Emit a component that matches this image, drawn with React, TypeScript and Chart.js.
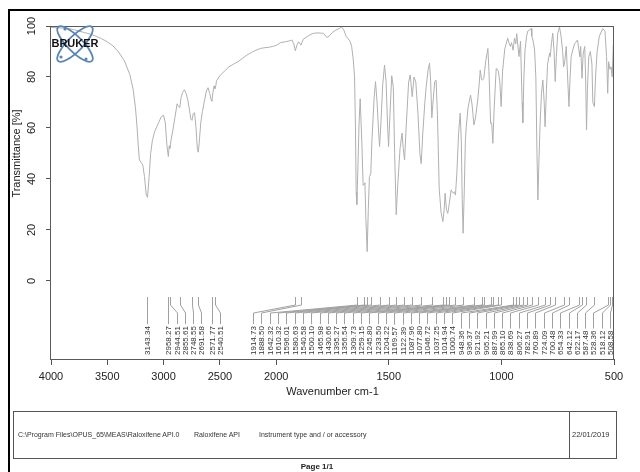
import React, { useEffect, useRef } from 'react';
import { Chart, registerables } from 'chart.js';

Chart.register(...registerables);

// ---- data -------------------------------------------------------------
const wavenumbers = [
  4000, 3950, 3900, 3850, 3800, 3750, 3700, 3650, 3600, 3550, 3500, 3450, 3400, 3350, 3300, 3270, 3250, 3235, 3225, 3215,
  3200, 3185, 3170, 3155, 3143, 3130, 3115, 3100, 3080, 3060, 3040, 3020, 3000, 2985, 2970, 2958, 2950, 2944, 2935, 2920,
  2900, 2880, 2870, 2856, 2845, 2830, 2815, 2800, 2785, 2770, 2758, 2748, 2738, 2725, 2712, 2700, 2692, 2684, 2670, 2655,
  2640, 2620, 2605, 2590, 2578, 2571, 2562, 2552, 2545, 2540, 2530, 2500, 2460, 2420, 2380, 2340, 2300, 2260, 2220, 2180,
  2140, 2100, 2060, 2030, 2000, 1980, 1960, 1940, 1930, 1922, 1915, 1908, 1900, 1890, 1880, 1860, 1840, 1820, 1800, 1790,
  1775, 1765, 1750, 1735, 1720, 1710, 1700, 1690, 1680, 1672, 1665, 1658, 1652, 1648, 1645, 1642, 1638, 1632, 1627, 1620,
  1614, 1610, 1606, 1602, 1596, 1591, 1586, 1580, 1575, 1565, 1559, 1552, 1545, 1541, 1535, 1527, 1519, 1512, 1505, 1501,
  1495, 1487, 1480, 1474, 1467, 1460, 1450, 1441, 1436, 1430, 1423, 1412, 1405, 1396, 1388, 1380, 1370, 1362, 1356, 1349,
  1340, 1334, 1325, 1319, 1314, 1309, 1302, 1296, 1290, 1284, 1276, 1268, 1260, 1254, 1250, 1244, 1238, 1232, 1223, 1218,
  1213, 1208, 1204, 1198, 1190, 1183, 1178, 1174, 1170, 1165, 1160, 1156, 1148, 1137, 1130, 1122, 1115, 1105, 1098, 1094,
  1088, 1083, 1078, 1070, 1060, 1055, 1048, 1043, 1038, 1032, 1023, 1018, 1013, 1007, 1001, 995, 985, 972, 965, 960,
  955, 948, 942, 936, 932, 922, 915, 908, 905, 900, 895, 888, 883, 875, 868, 865, 860, 853, 847, 842,
  838, 834, 828, 822, 816, 810, 806, 800, 795, 786, 783, 778, 772, 766, 761, 756, 750, 742, 735, 728,
  724, 720, 712, 706, 700, 695, 690, 683, 675, 662, 655, 652, 648, 642, 637, 630, 626, 622, 618, 612,
  605, 598, 594, 587, 582, 575, 565, 550, 540, 533, 528, 524, 518, 513, 508, 503, 500,
];

const transmittance = [
  99.5, 99.3, 99.2, 99.0, 98.6, 98.0, 97.4, 96.8, 96.0, 95.0, 93.8, 92.2, 89.8, 86.5, 81.0, 75.0, 68.0, 60.0, 53.0, 47.5,
  46.5, 45.5, 41.0, 34.0, 32.8, 40.0, 50.0, 55.0, 58.5, 60.5, 62.5, 64.5, 65.0, 62.0, 53.0, 48.8, 53.0, 52.0, 55.0, 58.5,
  64.0, 69.5, 68.5, 68.0, 72.0, 74.0, 75.0, 73.5, 71.0, 67.0, 63.5, 63.0, 65.5, 66.0, 60.0, 51.5, 50.5, 54.0, 62.0, 66.5,
  70.0, 74.5, 75.8, 73.5, 71.0, 70.5, 74.0, 76.5, 75.5, 75.5, 78.5, 80.5, 82.3, 84.0, 85.0, 86.0, 87.3, 88.6, 89.6, 90.5,
  91.2, 91.5, 91.7, 92.0, 92.4, 93.5, 93.8, 94.2, 94.5, 93.0, 90.3, 92.5, 93.8, 92.5, 94.8, 96.0, 97.0, 97.3, 97.2, 97.1,
  95.5, 96.0, 97.5, 98.4, 99.0, 99.6, 98.5, 96.0, 95.0, 94.0, 92.0, 87.0, 80.0, 60.0, 35.0, 30.0, 42.0, 62.0, 71.5, 55.0,
  37.5, 38.0, 38.5, 25.0, 11.5, 28.0, 41.0, 42.0, 55.0, 72.0, 78.2, 70.0, 58.0, 52.7, 62.0, 77.0, 84.7, 78.0, 60.0, 52.7,
  65.0, 80.5, 76.0, 50.0, 26.0, 38.0, 52.0, 58.0, 52.0, 47.5, 60.0, 78.0, 80.8, 72.3, 80.0, 78.0, 65.0, 50.0, 46.0, 58.0,
  70.0, 76.2, 83.0, 85.4, 78.0, 64.0, 72.0, 78.2, 78.8, 65.0, 36.0, 27.0, 23.3, 28.0, 34.4, 28.0, 26.5, 30.0, 35.7, 35.0,
  34.4, 35.0, 33.7, 42.0, 58.0, 65.8, 55.0, 32.0, 18.7, 35.0, 55.0, 60.5, 68.0, 72.9, 69.0, 61.2, 64.0, 71.0, 78.0, 82.7,
  79.0, 78.8, 79.5, 86.0, 91.2, 82.0, 61.8, 62.0, 54.0, 68.0, 83.4, 83.0, 82.1, 78.0, 68.4, 82.0, 91.0, 95.2, 93.0, 92.0,
  93.5, 90.5, 95.2, 93.0, 97.0, 88.0, 94.0, 70.0, 62.0, 80.0, 90.6, 96.0, 98.0, 98.5, 99.0, 96.0, 94.5, 91.0, 80.0, 50.0,
  31.8, 45.0, 62.0, 73.6, 78.8, 70.0, 60.5, 75.0, 85.0, 89.4, 88.0, 93.0, 97.2, 90.0, 78.2, 88.0, 97.0, 99.6, 96.0, 90.0,
  84.0, 85.0, 92.0, 80.0, 68.4, 80.0, 88.0, 90.6, 93.0, 94.5, 90.0, 88.0, 92.0, 79.5, 89.0, 92.0, 80.0, 59.2, 75.0, 88.0,
  90.0, 85.0, 70.0, 68.4, 80.0, 90.0, 96.0, 99.0, 98.0, 88.0, 73.6, 86.0, 83.0, 84.0, 80.0, 92.5, 90.0,
];

const peakWavenumbers = [
  3143.34, 2958.27, 2944.51, 2855.61, 2748.55, 2691.58, 2571.77, 2540.51,
  1914.73, 1888.5, 1642.32, 1610.32, 1596.01, 1580.63, 1540.58, 1500.1, 1465.98, 1430.66,
  1395.27, 1356.54, 1309.73, 1259.15, 1245.8, 1233.5, 1204.22, 1169.57, 1122.39, 1087.96,
  1077.8, 1046.72, 1037.25, 1014.94, 1000.74, 948.36, 936.37, 921.92, 905.21, 887.99,
  865.1, 838.69, 806.27, 782.91, 760.89, 724.09, 700.48, 654.33, 642.12, 622.17,
  587.48, 528.36, 518.12, 508.58,
];

const xTickValues = [4000, 3500, 3000, 2500, 2000, 1500, 1000, 500];
const yTickValues = [0, 20, 40, 60, 80, 100];
const xTitle = 'Wavenumber cm-1';
const yTitle = 'Transmittance [%]';
const footerPath = 'C:\\Program Files\\OPUS_65\\MEAS\\Raloxifene API.0';
const footerSample = 'Raloxifene API';
const footerInstrument = 'Instrument type and / or accessory';
const footerDate = '22/01/2019';
const pageText = 'Page 1/1';

// OPUS style axis: 4000-2000 drawn at half the scale of 2000-500
const fold = (wn: number) => (wn <= 2000 ? wn : 2000 + (wn - 2000) / 2);

const FONT = "'Liberation Sans', Arial, Helvetica, sans-serif";

const framePlugin = {
  id: 'plotFrame',
  afterDatasetsDraw(chart: any) {
    const { ctx, chartArea } = chart;
    ctx.save();
    ctx.strokeStyle = '#5a5a5a';
    ctx.lineWidth = 1;
    ctx.strokeRect(
      Math.round(chartArea.left) - 0.5,
      Math.round(chartArea.top) + 0.5,
      Math.round(chartArea.right - chartArea.left),
      Math.round(chartArea.bottom - chartArea.top)
    );
    ctx.restore();
  },
};

const yLabelPlugin = {
  id: 'yLabels',
  afterDraw(chart: any) {
    const { ctx, scales } = chart;
    const y = scales.y;
    ctx.save();
    ctx.fillStyle = '#222';
    ctx.font = `11px ${FONT}`;
    ctx.textAlign = 'center';
    ctx.textBaseline = 'middle';
    yTickValues.forEach((v) => {
      const py = y.getPixelForValue(v);
      ctx.save();
      ctx.translate(32, py);
      ctx.rotate(-Math.PI / 2);
      ctx.fillText(String(v), 0, 0);
      ctx.restore();
    });
    const mid = (y.getPixelForValue(0) + y.getPixelForValue(100)) / 2;
    ctx.translate(17, mid);
    ctx.rotate(-Math.PI / 2);
    ctx.fillText(yTitle, 0, 0);
    ctx.restore();
  },
};

const peakPlugin = {
  id: 'peakLabels',
  afterDatasetsDraw(chart: any) {
    const { ctx, chartArea, scales } = chart;
    const x = scales.x;
    const targets = peakWavenumbers.map((w) => x.getPixelForValue(fold(w)));
    const gap = 8.3;
    const pos = targets.slice();
    for (let i = 1; i < pos.length; i++) pos[i] = Math.max(pos[i], pos[i - 1] + gap);
    const maxX = chartArea.right - 4;
    pos[pos.length - 1] = Math.min(pos[pos.length - 1], maxX);
    for (let i = pos.length - 2; i >= 0; i--) pos[i] = Math.min(pos[i], pos[i + 1] - gap);

    const b = chartArea.bottom;
    const yA = b - 62;
    const yB = b - 54;
    const yC = b - 46;
    const textBottom = b - 4;
    ctx.save();
    ctx.font = `8px ${FONT}`;
    ctx.lineWidth = 1;
    ctx.strokeStyle = '#a0a0a0';
    peakWavenumbers.forEach((w, i) => {
      const label = w.toFixed(2);
      const tw = ctx.measureText(label).width;
      const yD = textBottom - tw - 2;
      const px = Math.round(targets[i]) + 0.5;
      const lx = Math.round(pos[i]) + 0.5;
      ctx.beginPath();
      ctx.moveTo(px, yA);
      ctx.lineTo(px, yB);
      ctx.lineTo(lx, yC);
      ctx.lineTo(lx, yD);
      ctx.stroke();
    });
    ctx.fillStyle = '#333';
    ctx.textAlign = 'left';
    ctx.textBaseline = 'middle';
    peakWavenumbers.forEach((w, i) => {
      ctx.save();
      ctx.translate(Math.round(pos[i]) + 0.5, textBottom);
      ctx.rotate(-Math.PI / 2);
      ctx.fillText(w.toFixed(2), 0, 0);
      ctx.restore();
    });
    ctx.restore();
  },
};

const logoPlugin = {
  id: 'brukerLogo',
  afterDraw(chart: any) {
    const { ctx, chartArea } = chart;
    const cx = chartArea.left + 24;
    const cy = chartArea.top + 18;
    ctx.save();
    ctx.strokeStyle = '#5b86b3';
    ctx.lineWidth = 1.8;
    [Math.PI / 4, -Math.PI / 4].forEach((a) => {
      ctx.beginPath();
      ctx.ellipse(cx, cy, 24, 7.5, a, 0, Math.PI * 2);
      ctx.stroke();
    });
    ctx.fillStyle = '#5b86b3';
    [[-10, -15], [11, 15], [-14, 13]].forEach(([dx, dy]) => {
      ctx.beginPath();
      ctx.arc(cx + dx, cy + dy, 1.6, 0, Math.PI * 2);
      ctx.fill();
    });
    ctx.fillStyle = '#111';
    ctx.font = `bold 11px ${FONT}`;
    ctx.textAlign = 'center';
    ctx.textBaseline = 'middle';
    ctx.fillText('BRUKER', cx, cy);
    ctx.restore();
  },
};

export default function App() {
  const canvasRef = useRef<HTMLCanvasElement | null>(null);

  useEffect(() => {
    const canvas = canvasRef.current;
    if (!canvas) return;
    const points = wavenumbers.map((w, i) => ({ x: fold(w), y: transmittance[i] }));
    const chart = new Chart(canvas, {
      type: 'line',
      data: {
        datasets: [
          {
            data: points,
            borderColor: '#b0b0b0',
            borderWidth: 1,
            pointRadius: 0,
            tension: 0,
            fill: false,
          },
        ],
      },
      options: {
        responsive: false,
        animation: false,
        devicePixelRatio: 1,
        layout: { padding: { top: 26, right: 26, left: 0, bottom: 0 } },
        plugins: { legend: { display: false }, tooltip: { enabled: false } },
        scales: {
          x: {
            type: 'linear',
            reverse: true,
            min: fold(500),
            max: fold(4000),
            afterBuildTicks: (s: any) => {
              s.ticks = xTickValues.map((v) => ({ value: fold(v) }));
            },
            afterFit: (s: any) => {
              s.height = 113;
            },
            ticks: {
              autoSkip: false,
              maxRotation: 0,
              minRotation: 0,
              padding: 5,
              color: '#222',
              font: { family: FONT, size: 11 },
              callback: (_v: any, i: number) => String(xTickValues[i]),
            },
            grid: { drawOnChartArea: false, drawTicks: true, tickLength: 6, color: '#555' },
            border: { display: false },
            title: {
              display: true,
              text: xTitle,
              color: '#222',
              font: { family: FONT, size: 11 },
              padding: { top: 2, bottom: 73 },
            },
          },
          y: {
            type: 'linear',
            min: -30.6,
            max: 100,
            afterBuildTicks: (s: any) => {
              s.ticks = yTickValues.map((v) => ({ value: v }));
            },
            afterFit: (s: any) => {
              s.width = 51;
            },
            ticks: { display: false },
            grid: { drawOnChartArea: false, drawTicks: true, tickLength: 5, color: '#555' },
            border: { display: false },
          },
        },
      },
      plugins: [peakPlugin, framePlugin, logoPlugin, yLabelPlugin],
    });
    return () => chart.destroy();
  }, []);

  const textStyle: React.CSSProperties = {
    position: 'absolute',
    top: 0,
    height: 46,
    lineHeight: '46px',
    fontFamily: FONT,
    fontSize: 7,
    color: '#333',
    whiteSpace: 'nowrap',
  };

  return (
    <div
      style={{
        position: 'absolute',
        left: 0,
        top: 0,
        width: 640,
        height: 472,
        overflow: 'hidden',
        background: '#fff',
      }}
    >
      <canvas ref={canvasRef} width={640} height={472} style={{ position: 'absolute', left: 0, top: 0 }} />
      <div style={{ position: 'absolute', left: 8, top: 9, width: 632, height: 2, background: '#000' }} />
      <div style={{ position: 'absolute', left: 8, top: 9, width: 2, height: 463, background: '#000' }} />
      <div
        style={{
          position: 'absolute',
          left: 13,
          top: 411,
          width: 602,
          height: 46,
          border: '1px solid #555',
        }}
      >
        <span style={{ ...textStyle, left: 4 }}>{footerPath}</span>
        <span style={{ ...textStyle, left: 180 }}>{footerSample}</span>
        <span style={{ ...textStyle, left: 245 }}>{footerInstrument}</span>
        <div style={{ position: 'absolute', left: 555, top: 0, width: 1, height: 46, background: '#555' }} />
        <span style={{ ...textStyle, left: 558, fontSize: 7.5 }}>{footerDate}</span>
      </div>
      <div
        style={{
          position: 'absolute',
          left: 0,
          width: 634,
          top: 462,
          textAlign: 'center',
          fontFamily: FONT,
          fontSize: 8,
          fontWeight: 'bold',
          color: '#222',
        }}
      >
        {pageText}
      </div>
    </div>
  );
}
